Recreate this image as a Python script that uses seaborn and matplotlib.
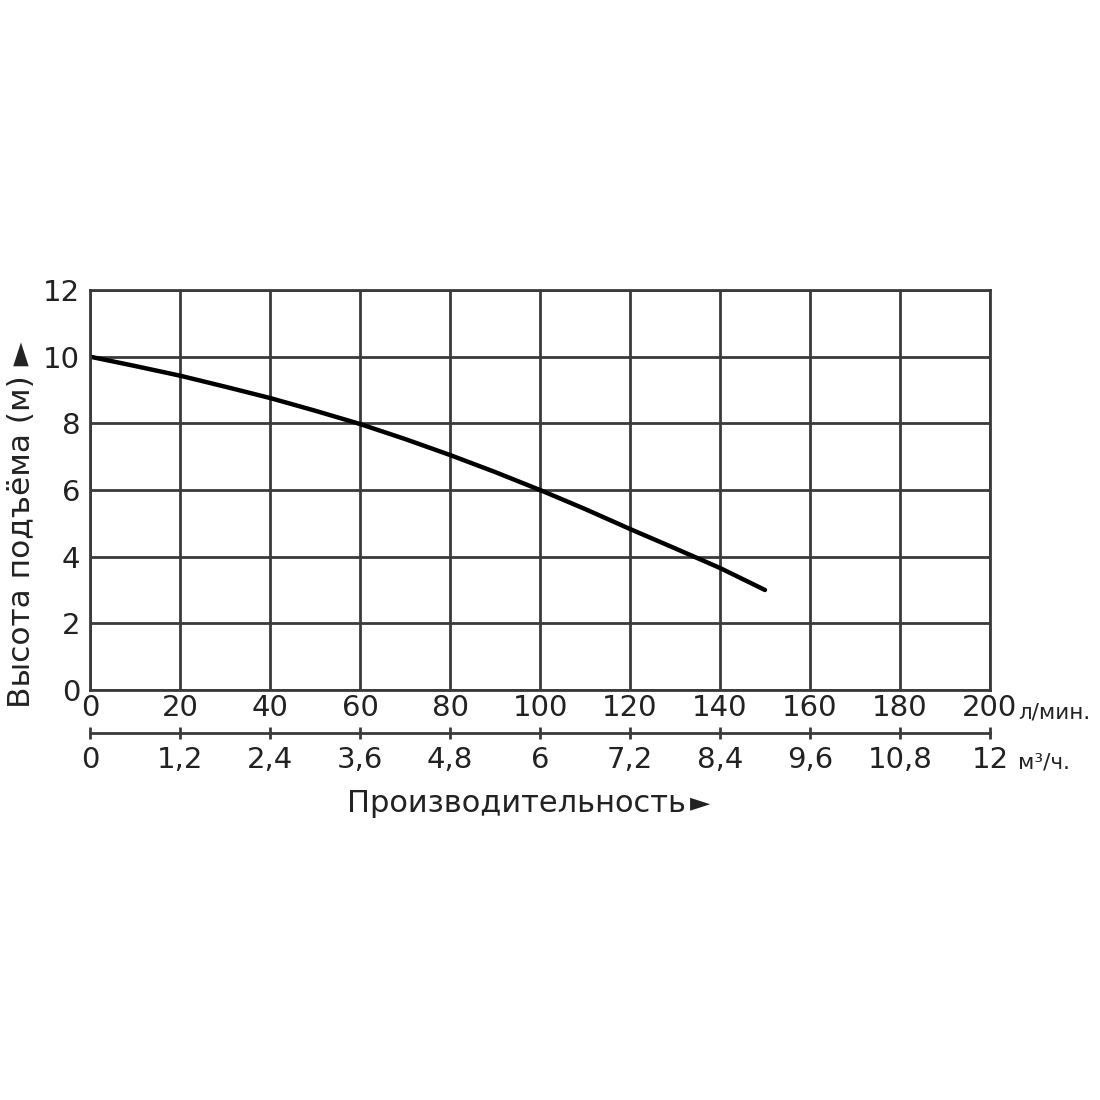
# Pump performance curve (head vs flow)

import pandas as pd
import matplotlib
matplotlib.use("Agg")
import matplotlib.pyplot as plt
import seaborn as sns

# ------------------------------------------
# Data
# ------------------------------------------

flow_lmin = [0, 10, 20, 30, 40, 50, 60, 70, 80, 90, 100, 110, 120, 130, 140, 150]
head_m = [10.0, 9.72, 9.43, 9.1, 8.76, 8.38, 7.98, 7.53, 7.05, 6.54, 6.0, 5.43, 4.83, 4.25, 3.66, 3.0]

x_ticks = [0, 20, 40, 60, 80, 100, 120, 140, 160, 180, 200]
y_ticks = [0, 2, 4, 6, 8, 10, 12]
m3h_ticks = [0, 1.2, 2.4, 3.6, 4.8, 6, 7.2, 8.4, 9.6, 10.8, 12]
m3h_labels = ["0", "1,2", "2,4", "3,6", "4,8", "6", "7,2", "8,4", "9,6", "10,8", "12"]

df = pd.DataFrame({"flow": flow_lmin, "head": head_m})

# ------------------------------------------
# Style
# ------------------------------------------

sns.set_style("white")
fonts = ["DejaVu Sans", "Noto Sans"]
plt.rcParams["font.family"] = fonts

line_col = "#3a3a3a"
text_col = "#222222"

fig = plt.figure(figsize=(11, 11), dpi=100)
ax = fig.add_axes([90/1100, 1 - 690/1100, 900/1100, 400/1100])

sns.lineplot(data=df, x="flow", y="head", ax=ax, color="black", linewidth=3.2)

ax.set_xlim(0, 200)
ax.set_ylim(0, 12)
ax.set_xticks(x_ticks)
ax.set_yticks(y_ticks)
ax.grid(True, color=line_col, linewidth=2)
for s in ax.spines.values():
    s.set_color(line_col)
    s.set_linewidth(2)
ax.tick_params(length=0, labelsize=21, colors=text_col, pad=7)
ax.tick_params(axis="x", pad=3)
ax.set_xlabel("")
ax.set_ylabel("")

# second flow scale (m3/h)
sec = ax.secondary_xaxis(-0.1075, functions=(lambda v: v * 0.06, lambda v: v / 0.06))
sec.set_xticks(m3h_ticks)
sec.set_xticklabels(m3h_labels)
sec.spines["bottom"].set_color(line_col)
sec.spines["bottom"].set_linewidth(2)
sec.tick_params(direction="inout", length=9, width=2, color=line_col,
                labelsize=21, labelcolor=text_col, pad=5)

ax.text(1.031, -0.055, "л/мин.", transform=ax.transAxes, fontsize=15.5,
        ha="left", va="center", color=text_col)
ax.text(1.031, -0.182, "м³/ч.", transform=ax.transAxes, fontsize=15.5,
        ha="left", va="center", color=text_col)

fig.text(516/1100, 1 - 803/1100, "Производительность", fontsize=22,
         ha="center", va="center", color=text_col)
fig.text(700/1100, 1 - 803/1100, "►", fontsize=19,
         ha="center", va="center", color=text_col)
fig.text(22/1100, 1 - 525/1100, "Высота подъёма (м) ►", fontsize=22.5,
         ha="center", va="center", rotation=90, color=text_col)

fig.savefig("out.png", dpi=100, facecolor="white")
